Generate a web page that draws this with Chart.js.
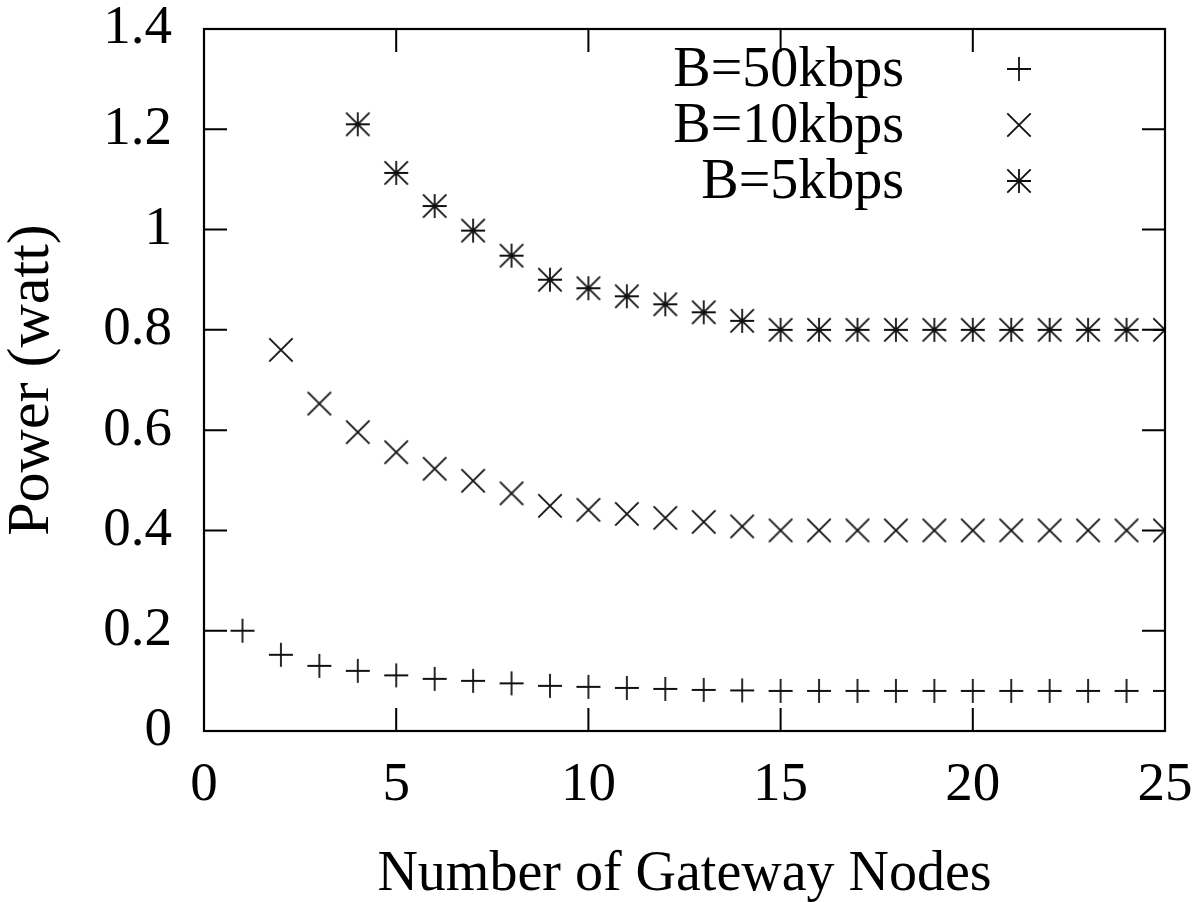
<!DOCTYPE html>
<html>
<head>
<meta charset="utf-8">
<script src="https://cdn.jsdelivr.net/npm/chart.js@4"></script>
<style>
html,body{margin:0;padding:0;background:#fff;}
#wrap{width:1200px;height:902px;position:relative;}
</style>
</head>
<body>
<div id="wrap"><canvas id="c" width="1200" height="902"></canvas></div>
<script>
const xValues = [1,2,3,4,5,6,7,8,9,10,11,12,13,14,15,16,17,18,19,20,21,22,23,24,25];
const labels = ["B=50kbps","B=10kbps","B=5kbps"];
// B=50kbps, x = 1..25
const b50 = [0.200,0.152,0.130,0.120,0.111,0.104,0.100,0.095,0.090,0.088,0.086,0.084,0.082,0.081,0.080,0.080,0.080,0.080,0.080,0.080,0.080,0.080,0.080,0.080,0.080];
// B=10kbps, x = 2..25
const b10 = [0.760,0.653,0.596,0.556,0.523,0.499,0.474,0.449,0.441,0.433,0.425,0.417,0.408,0.400,0.400,0.400,0.400,0.400,0.400,0.400,0.400,0.400,0.400,0.400];
// B=5kbps, x = 4..25
const b5 = [1.210,1.113,1.047,0.998,0.948,0.900,0.883,0.867,0.851,0.835,0.818,0.800,0.800,0.800,0.800,0.800,0.800,0.800,0.800,0.800,0.800,0.800];
const yTicks = [0,0.2,0.4,0.6,0.8,1,1.2,1.4];
const xTicks = [0,5,10,15,20,25];

const INK = '#111';
function marker(kind){
  const h = 13, s = 2*h+4;
  const cv = document.createElement('canvas');
  cv.width = s; cv.height = s;
  const g = cv.getContext('2d');
  g.strokeStyle = INK; g.lineWidth = 1.8;
  const c = s/2;
  g.beginPath();
  if (kind === 'plus' || kind === 'star'){
    g.moveTo(c-12,c); g.lineTo(c+12,c);
    g.moveTo(c,c-12); g.lineTo(c,c+12);
  }
  if (kind === 'x' || kind === 'star'){
    g.moveTo(c-11.7,c-11.7); g.lineTo(c+11.7,c+11.7);
    g.moveTo(c-11.7,c+11.7); g.lineTo(c+11.7,c-11.7);
  }
  g.stroke();
  return cv;
}
const styles = [marker('plus'), marker('x'), marker('star')];

function pts(vals, startX){
  return vals.map((v,i)=>({x: xValues[xValues.indexOf(startX)+i], y: v}));
}

const FONT = 'Liberation Serif';

const framePlugin = {
  id:'frame',
  afterDraw(chart){
    const {ctx, chartArea:a, scales:{x,y}} = chart;
    ctx.save();
    ctx.strokeStyle = '#000';
    ctx.lineWidth = 2.2;
    ctx.strokeRect(a.left, a.top, a.right-a.left, a.bottom-a.top);
    const L = 23;
    ctx.lineWidth = 2;
    ctx.beginPath();
    yTicks.forEach(v=>{
      const p = y.getPixelForValue(v);
      ctx.moveTo(a.left,p); ctx.lineTo(a.left+L,p);
      ctx.moveTo(a.right,p); ctx.lineTo(a.right-L,p);
    });
    xTicks.forEach(v=>{
      const p = x.getPixelForValue(v);
      ctx.moveTo(p,a.bottom); ctx.lineTo(p,a.bottom-L);
      ctx.moveTo(p,a.top); ctx.lineTo(p,a.top+L);
    });
    ctx.stroke();
    // legend (gnuplot style: text right-aligned, sample on the right)
    ctx.fillStyle = '#000';
    ctx.font = '56px "' + FONT + '"';
    ctx.textAlign = 'right';
    ctx.textBaseline = 'alphabetic';
    chart.data.datasets.forEach((ds,i)=>{
      const yy = a.top + 40 + i*56;
      ctx.fillText(ds.label, a.right - 261, yy + 17);
      Chart.helpers.drawPoint(ctx, {pointStyle: ds.pointStyle, radius: 12, rotation: 0}, a.right - 146, yy);
    });
    ctx.restore();
  }
};

new Chart(document.getElementById('c'), {
  type: 'scatter',
  data: {
    datasets: [
      {label: labels[0], data: pts(b50,1), pointStyle: styles[0]},
      {label: labels[1], data: pts(b10,2), pointStyle: styles[1]},
      {label: labels[2], data: pts(b5,4), pointStyle: styles[2]}
    ]
  },
  options: {
    responsive: false,
    animation: false,
    devicePixelRatio: 1,
    layout: {padding: {left: 0, top: 29, right: 35, bottom: 0}},
    plugins: {legend: {display: false}, tooltip: {enabled: false}},
    elements: {point: {radius: 12, hoverRadius: 12, borderColor: INK, backgroundColor: INK}},
    scales: {
      x: {
        type: 'linear', min: 0, max: 25,
        afterBuildTicks: s => { s.ticks = xTicks.map(v=>({value:v})); },
        afterFit: s => { s.height = 171; s.paddingLeft = 0; s.paddingRight = 0; },
        grid: {display: false, drawTicks: false},
        border: {display: false},
        ticks: {color: '#000', padding: 22, font: {family: FONT, size: 55}, maxRotation: 0},
        title: {display: true, text: 'Number of Gateway Nodes', color: '#000', font: {family: FONT, size: 56, lineHeight: 0.95}, padding: {top: 0, bottom: 0}}
      },
      y: {
        type: 'linear', min: 0, max: 1.4,
        afterBuildTicks: s => { s.ticks = yTicks.map(v=>({value:v})); },
        afterFit: s => { s.width = 204; s.paddingTop = 0; s.paddingBottom = 0; },
        grid: {display: false, drawTicks: false},
        border: {display: false},
        ticks: {color: '#000', padding: 32, font: {family: FONT, size: 55}, callback: v => String(Number(v.toFixed(1)))},
        title: {display: true, text: 'Power (watt)', color: '#000', font: {family: FONT, size: 60, lineHeight: 1}, padding: {top: 2, bottom: 0}}
      }
    }
  },
  plugins: [framePlugin]
});
</script>
</body>
</html>
